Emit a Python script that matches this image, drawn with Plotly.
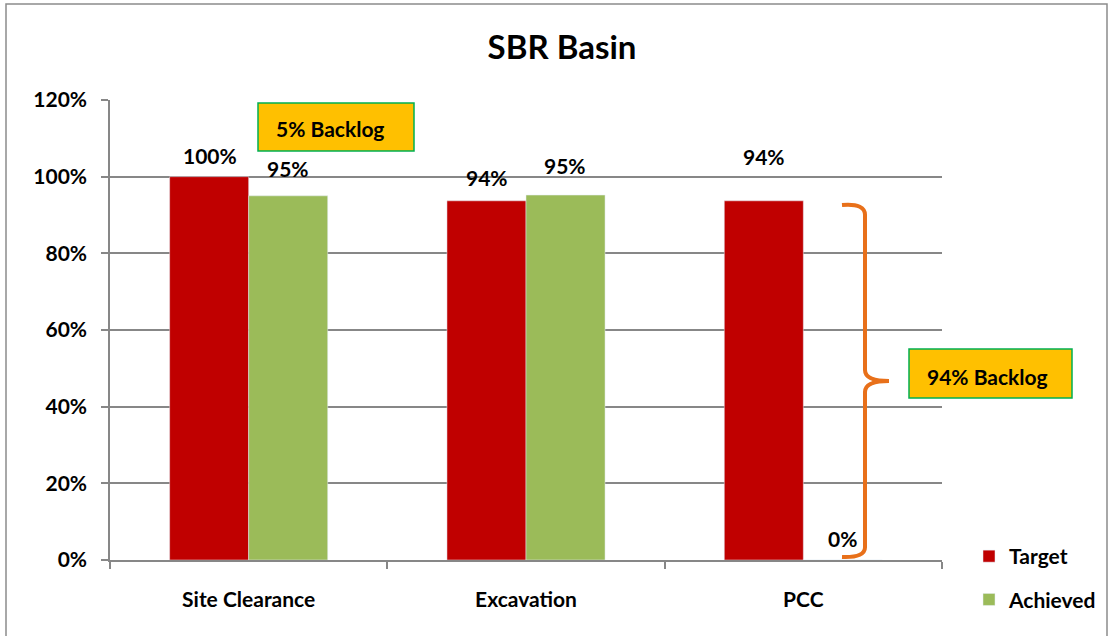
import plotly.graph_objects as go

categories = ["Site Clearance", "Excavation", "PCC"]
target = [100, 93.7, 93.7]
achieved = [95, 95.2, 0]
target_labels = ["100%", "94%", "94%"]
achieved_labels = ["95%", "95%", "0%"]
y_ticks = [0, 20, 40, 60, 80, 100, 120]
y_tick_labels = ["0%", "20%", "40%", "60%", "80%", "100%", "120%"]

# label placement (pixel offsets of label centres above bar tops)
target_label_shift = [21, 23, 44]
achieved_label_shift = [27, 30, 22]

FONT = "Lato, 'Open Sans', sans-serif"
RED = "#C00000"
GREEN = "#9BBB59"
ORANGE = "#E8701A"
GRID = "#878787"
FS = 21

# pixel layout helpers (plot area: x 110..942, y 100..560)
L, R, T, B = 110, 942, 100, 560
W, H = 1112, 636
HALF_BAR = 39


def px(x):
    return (x - L) / (R - L)


def py(y):
    return (B - y) / (B - T)


def bold(size):
    return dict(size=size, color="black", family=FONT, weight="bold")


fig = go.Figure()
fig.add_trace(go.Bar(name="Target", x=categories, y=target, marker_color=RED,
                     legendgroup="a"))
fig.add_trace(go.Bar(name="Achieved", x=categories, y=achieved, marker_color=GREEN,
                     legendgroup="b"))

# data labels anchored to the data
for c, v, t, s in zip(categories, target, target_labels, target_label_shift):
    fig.add_annotation(x=c, y=v, text=t, showarrow=False, xshift=-HALF_BAR,
                       yshift=s, xanchor="center", yanchor="middle", font=bold(FS))
for c, v, t, s in zip(categories, achieved, achieved_labels, achieved_label_shift):
    fig.add_annotation(x=c, y=v, text=t, showarrow=False, xshift=HALF_BAR,
                       yshift=s, xanchor="center", yanchor="middle", font=bold(FS))

# outer border
fig.add_shape(type="rect", xref="paper", yref="paper",
              x0=px(6), x1=px(1107), y0=py(640), y1=py(4),
              line=dict(color="#8C8C8C", width=1.5), fillcolor="rgba(0,0,0,0)", layer="below")

# backlog boxes
fig.add_shape(type="rect", xref="paper", yref="paper",
              x0=px(258), x1=px(414), y0=py(151), y1=py(103),
              line=dict(color="#00B050", width=1.5), fillcolor="#FFC000")
fig.add_annotation(xref="paper", yref="paper", x=px(330), y=py(128),
                   xanchor="center", yanchor="middle",
                   text="5% Backlog", showarrow=False, font=bold(FS))
fig.add_shape(type="rect", xref="paper", yref="paper",
              x0=px(909), x1=px(1072), y0=py(398), y1=py(349),
              line=dict(color="#00B050", width=1.5), fillcolor="#FFC000")
fig.add_annotation(xref="paper", yref="paper", x=px(988), y=py(376),
                   xanchor="center", yanchor="middle",
                   text="94% Backlog", showarrow=False, font=bold(FS))

# brace
pts = [
    ("M", [(842, 205)]),
    ("Q", [(866, 203), (865, 216)]),
    ("L", [(865, 370)]),
    ("Q", [(865, 381), (889, 381)]),
    ("Q", [(865, 381), (865, 392)]),
    ("L", [(865, 546)]),
    ("Q", [(866, 558), (842, 557)]),
]
path = " ".join(cmd + " " + " ".join(f"{px(x):.5f},{py(y):.5f}" for x, y in p) for cmd, p in pts)
fig.add_shape(type="path", xref="paper", yref="paper", path=path,
              line=dict(color=ORANGE, width=4))

fig.update_layout(
    width=W, height=H,
    margin=dict(l=L, r=W - R, t=T, b=H - B, autoexpand=False),
    paper_bgcolor="white", plot_bgcolor="white",
    font=bold(FS),
    title=dict(text="SBR Basin", x=562 / W, xanchor="center", xref="container",
               y=1 - 47 / H, yanchor="middle", yref="container", font=bold(33)),
    barmode="group", bargap=0.43, bargroupgap=0,
    showlegend=True,
    legend=dict(x=px(969), y=py(536), xanchor="left", yanchor="top",
                traceorder="grouped", tracegroupgap=13,
                font=bold(21), bgcolor="rgba(0,0,0,0)"),
    xaxis=dict(showline=True, linecolor=GRID, linewidth=1.5,
               tickson="boundaries", ticks="outside", ticklen=7, tickcolor=GRID,
               tickwidth=1.5, showgrid=False, ticklabelstandoff=20,
               tickfont=bold(FS)),
    yaxis=dict(range=[0, 120], tickvals=y_ticks, ticktext=y_tick_labels,
               showline=True, linecolor=GRID, linewidth=1.5,
               ticks="outside", ticklen=7, tickcolor=GRID, tickwidth=1.5,
               showgrid=True, gridcolor=GRID, gridwidth=1.5, zeroline=False,
               ticklabelstandoff=10, tickfont=bold(FS)),
)

fig.write_html("out.html", config={"displayModeBar": False},
               post_script="document.body.style.margin='0';")
